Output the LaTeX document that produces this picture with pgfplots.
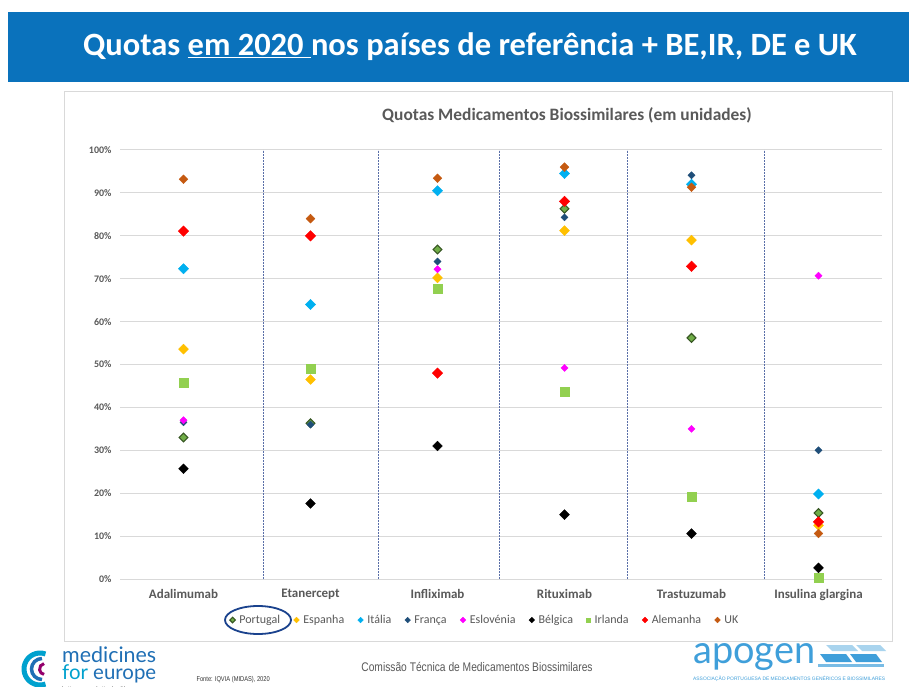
\documentclass[border=0pt]{standalone}
\usepackage{fontspec}
\setmainfont{Carlito}
\newfontfamily\arialf{Liberation Sans}
\newfontfamily\latof{Lato}
\usepackage{graphicx}
\usepackage{pgfplots}
\pgfplotsset{compat=1.18}
\definecolor{banner}{HTML}{0A72BC}
\definecolor{txt}{HTML}{595959}
\definecolor{gridc}{HTML}{D9D9D9}
\definecolor{sep}{HTML}{5A6FA8}
\definecolor{ptfill}{HTML}{70AD47}
\definecolor{ptdraw}{HTML}{375623}
\definecolor{esp}{HTML}{FFC000}
\definecolor{ita}{HTML}{00B0F0}
\definecolor{fra}{HTML}{1F4E79}
\definecolor{esl}{HTML}{FF00FF}
\definecolor{irl}{HTML}{92D050}
\definecolor{ale}{HTML}{FF0000}
\definecolor{ukc}{HTML}{C55A11}
\definecolor{mfeblue}{HTML}{1F6FB5}
\definecolor{apo}{HTML}{3F9FDA}
\begin{document}
\begin{tikzpicture}[x=1pt,y=1pt]
\useasboundingbox (0,0) rectangle (909,686);
\fill[white] (0,0) rectangle (909,686);
% banner
\fill[banner] (8,604) rectangle (909,674);
\node[text=white, font=\fontsize{32.5}{38}\selectfont\bfseries, anchor=base] at (470,630)
  {Quotas \underline{em 2020\ }nos países de referência + BE,IR, DE e UK};
% chart box
\draw[gridc, line width=1pt] (64,45) rectangle (892,594);
\node[text=txt, font=\fontsize{17.4}{20}\selectfont\bfseries, anchor=center] at (567,571)
  {Quotas Medicamentos Biossimilares (em unidades)};
\begin{axis}[
  at={(120pt,107pt)}, anchor=south west,
  width=762pt, height=429pt, scale only axis,
  xmin=-0.5, xmax=5.5, ymin=0, ymax=100,
  xtick={0,1,2,3,4,5},
  xticklabels={Adalimumab,Etanercept,Infliximab,Rituximab,Trastuzumab,Insulina glargina},
  ytick={0,10,...,100},
  yticklabel={\pgfmathprintnumber{\tick}\%},
  /pgf/number format/assume math mode=true,
  ymajorgrids, grid style={draw=gridc, line width=1pt},
  axis line style={draw=none}, major tick style={draw=none},
  yticklabel style={font=\fontsize{10}{12}\selectfont\bfseries, text=txt, xshift=-5pt},
  xticklabel style={font=\fontsize{13}{14}\selectfont\bfseries, text=txt, yshift=-7pt},
  clip=false,
  legend columns=9,
  legend style={at={(0.479,-0.0956)}, anchor=center, draw=none, fill=none,
    font=\fontsize{12}{14}\selectfont, text=txt,
    /tikz/every odd column/.append style={column sep=2pt},
    /tikz/every even column/.append style={column sep=11.5pt}},
  legend image code/.code={\draw[#1, mark size=2pt] plot coordinates {(0.12cm,0cm)};},
]
% separators
\addplot[sep, line width=0.8pt, dash pattern=on 1.6pt off 1.4pt, forget plot] coordinates {(0.626,0) (0.626,100)};
\addplot[sep, line width=0.8pt, dash pattern=on 1.6pt off 1.4pt, forget plot] coordinates {(1.531,0) (1.531,100)};
\addplot[sep, line width=0.8pt, dash pattern=on 1.6pt off 1.4pt, forget plot] coordinates {(2.484,0) (2.484,100)};
\addplot[sep, line width=0.8pt, dash pattern=on 1.6pt off 1.4pt, forget plot] coordinates {(3.492,0) (3.492,100)};
\addplot[sep, line width=0.8pt, dash pattern=on 1.6pt off 1.4pt, forget plot] coordinates {(4.571,0) (4.571,100)};
% Portugal
\addplot[only marks, mark=square*, mark size=3.1pt, mark options={rotate=45, fill=ptfill, draw=ptdraw, line width=1.1pt}]
  coordinates {(0,33.0) (1,36.3) (2,76.8) (3,86.3) (4,56.2) (5,15.4)};
\addlegendentry{Portugal}
% Espanha
\addplot[only marks, mark=square*, mark size=3.5pt, mark options={rotate=45, fill=esp, draw=esp}]
  coordinates {(0,53.6) (1,46.5) (2,70.2) (3,81.2) (4,79.0) (5,12.5)};
\addlegendentry{Espanha}
% Italia
\addplot[only marks, mark=square*, mark size=3.6pt, mark options={rotate=45, fill=ita, draw=ita}]
  coordinates {(0,72.3) (1,64.0) (2,90.5) (3,94.5) (4,92.0) (5,19.8)};
\addlegendentry{Itália}
% Franca
\addplot[only marks, mark=square*, mark size=2.5pt, mark options={rotate=45, fill=fra, draw=fra}]
  coordinates {(0,36.5) (1,36.0) (2,74.0) (3,84.3) (4,94.1) (5,30.0)};
\addlegendentry{França}
% Eslovenia
\addplot[only marks, mark=square*, mark size=2.5pt, mark options={rotate=45, fill=esl, draw=esl}]
  coordinates {(0,37.0) (2,72.2) (3,49.2) (4,35.0) (5,70.7)};
\addlegendentry{Eslovénia}
% Belgica
\addplot[only marks, mark=square*, mark size=3.5pt, mark options={rotate=45, fill=black, draw=black}]
  coordinates {(0,25.7) (1,17.6) (2,31.0) (3,15.0) (4,10.6) (5,2.6)};
\addlegendentry{Bélgica}
% Irlanda
\addplot[only marks, mark=square*, mark size=4.6pt, mark options={fill=irl, draw=irl}]
  coordinates {(0,45.8) (1,49.0) (2,67.6) (3,43.7) (4,19.2) (5,0.3)};
\addlegendentry{Irlanda}
% Alemanha
\addplot[only marks, mark=square*, mark size=3.7pt, mark options={rotate=45, fill=ale, draw=ale}]
  coordinates {(0,81.1) (1,80.0) (2,48.0) (3,88.0) (4,72.9) (5,13.3)};
\addlegendentry{Alemanha}
% UK
\addplot[only marks, mark=square*, mark size=3.1pt, mark options={rotate=45, fill=ukc, draw=ukc}]
  coordinates {(0,93.2) (1,84.0) (2,93.4) (3,96.0) (4,91.3) (5,10.6)};
\addlegendentry{UK}
\end{axis}
% ellipse around Portugal
\draw[fra!85!blue, line width=1.8pt] (258,66) ellipse (33pt and 14pt);
% bottom texts
\node[text=txt, anchor=base] at (477,15) {\scalebox{0.82}[1]{\arialf\fontsize{12.5}{14}\selectfont Comissão Técnica de Medicamentos Biossimilares}};
\node[text=black!80, anchor=base west] at (193,5) {\scalebox{0.82}[1]{\arialf\fontsize{7}{8}\selectfont Fonte: IQVIA (MIDAS), 2020}};
% medicines for europe logo
\draw[ita!70!teal, line width=5pt] (40,17) ++(70:16) arc (70:290:16);
\draw[mfeblue, line width=3.5pt] (42,17) ++(90:10.5) arc (90:270:10.5);
\draw[violet!70!purple, line width=3pt] (45,17) ++(100:5.5) arc (100:260:5.5);
\node[anchor=base west, inner sep=0pt] at (62,24) {\resizebox{94pt}{!}{\latof\color{mfeblue}medicines}};
\node[anchor=base west, inner sep=0pt] at (62,7) {\resizebox{94pt}{!}{\latof{\color{ita!70!teal}for} \color{mfeblue}europe}};
\node[anchor=base west, inner sep=0pt] at (62,-4) {\resizebox{66pt}{!}{\latof\color{txt}better access. better health.}};
% apogen logo
\node[anchor=base west, inner sep=0pt] at (693,23) {\resizebox{122pt}{20pt}{\latof\color{apo}apogen}};
\fill[apo!45] (826,41) -- (852,41) -- (858,35) -- (832,35) -- cycle;
\fill[apo!45] (856,41) -- (880,41) -- (886,35) -- (862,35) -- cycle;
\fill[apo] (820,32) -- (846,32) -- (852,24) -- (826,24) -- cycle;
\fill[apo] (850,32) -- (876,32) -- (882,24) -- (856,24) -- cycle;
\fill[apo!70] (818,22) -- (884,22) -- (884,19) -- (818,19) -- cycle;
\node[anchor=base west, inner sep=0pt] at (693,6) {\resizebox{192pt}{!}{\arialf\color{apo}ASSOCIAÇÃO PORTUGUESA DE MEDICAMENTOS GENÉRICOS E BIOSSIMILARES}};
\end{tikzpicture}
\end{document}
